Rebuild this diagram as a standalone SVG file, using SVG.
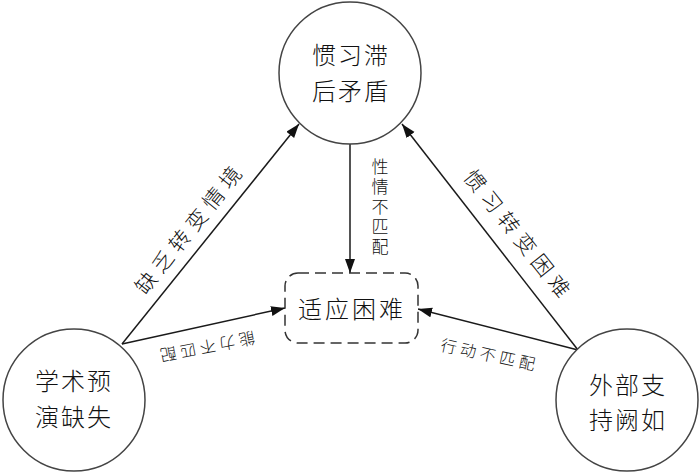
<svg xmlns="http://www.w3.org/2000/svg" width="700" height="472" viewBox="0 0 700 472">
<style>
.node{fill:#fff;stroke:#444;stroke-width:1.5}
.box{fill:#fff;stroke:#333;stroke-width:1.5;stroke-dasharray:11 6}
.t{font-family:"Noto Sans CJK SC","Noto Sans CJK JP",sans-serif;font-weight:300;fill:#111;text-anchor:middle;dominant-baseline:central}
.nt{font-size:24px;letter-spacing:2px}
.lb{font-size:21px;letter-spacing:6px}
.sm{font-size:16px;letter-spacing:4px}
.edge{stroke:#1a1a1a;stroke-width:1.5;fill:none;marker-end:url(#arr)}
</style>
<defs>
<marker id="arr" markerUnits="userSpaceOnUse" markerWidth="16" markerHeight="12" refX="14" refY="5" orient="auto">
<path d="M0,0 L14,5 L0,10 z" fill="#111"/>
</marker>
</defs>
<rect width="700" height="472" fill="#fff"/>
<g id="connectors">
<line class="edge" x1="122" y1="344" x2="299" y2="124"/>
<line class="edge" x1="578" y1="350" x2="402" y2="124"/>
<line class="edge" x1="350" y1="144" x2="350" y2="273"/>
<line class="edge" x1="122" y1="344" x2="285" y2="308"/>
<line class="edge" x1="578" y1="350" x2="418" y2="309"/>
<text class="t lb" transform="translate(189,227) rotate(-51.3)">缺乏转变情境</text>
<text class="t lb" transform="translate(520,235) rotate(51.5)">惯习转变困难</text>
<text class="t sm" transform="translate(206,348) rotate(169)">能力不匹配</text>
<text class="t sm" transform="translate(490,354) rotate(12)">行动不匹配</text>
<text class="t" style="font-size:17px;letter-spacing:3px;text-anchor:start" writing-mode="vertical-rl" x="380" y="158">性情不匹配</text>
</g>
<g id="node-top">
<circle class="node" cx="350" cy="73" r="71"/>
<text class="t nt" x="351" y="53">惯习滞</text>
<text class="t nt" x="351" y="89">后矛盾</text>
</g>
<g id="node-left">
<circle class="node" cx="74" cy="400" r="71"/>
<text class="t nt" x="74" y="379">学术预</text>
<text class="t nt" x="74" y="415">演缺失</text>
</g>
<g id="node-right">
<circle class="node" cx="627" cy="400" r="71"/>
<text class="t nt" x="628" y="383">外部支</text>
<text class="t nt" x="628" y="418">持阙如</text>
</g>
<g id="node-center">
<rect class="box" x="285" y="273" width="133" height="70" rx="13"/>
<text class="t" style="font-size:24px;letter-spacing:3px" x="352" y="307">适应困难</text>
</g>
</svg>
